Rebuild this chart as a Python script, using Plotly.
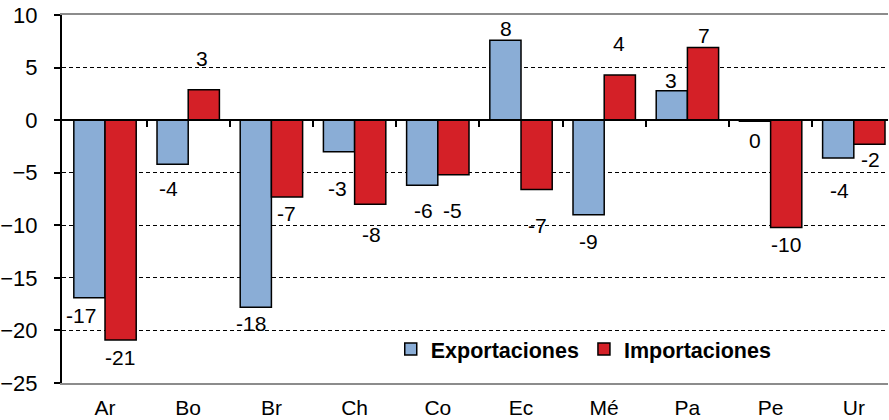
import plotly.graph_objects as go

# Variación (%) por país
paises = ["Ar", "Bo", "Br", "Ch", "Co", "Ec", "Mé", "Pa", "Pe", "Ur"]
exportaciones = [-16.9, -4.2, -17.8, -3.0, -6.2, 7.6, -9.0, 2.8, -0.1, -3.6]
importaciones = [-20.9, 2.9, -7.3, -8.0, -5.2, -6.6, 4.3, 6.9, -10.2, -2.3]

# desplazamiento de las etiquetas (px) respecto al extremo de cada barra
exp_dx = [-8, -4, -5, -2, 1, 1, 0, -1, 0, 1]
exp_dy = [-18, -24, -16, -37, -25, 12, -27, 10, -19, -33]
imp_dx = [-1, -2, -1, 1, -1, 1, -1, 1, 0, 1]
imp_dy = [-18, 31, -17, -30, -36, -36, 31, 12, -17, -15]


def etiqueta(v):
    r = int(round(v))
    return "0" if r == 0 else str(r)


FONT = "Liberation Sans, Arial, sans-serif"
idx = list(range(len(paises)))
bargap = 0.25
half = (1 - bargap) / 4  # centro de cada barra respecto a la categoría

fig = go.Figure()
fig.add_trace(go.Bar(
    x=idx, y=exportaciones, name="Exportaciones",
    marker=dict(color="#8AADD6", line=dict(color="black", width=1.5)),
))
fig.add_trace(go.Bar(
    x=idx, y=importaciones, name="Importaciones",
    marker=dict(color="#D42027", line=dict(color="black", width=1.5)),
))
# eje auxiliar (línea del cero con marcas entre categorías)
fig.add_trace(go.Scatter(x=[None], y=[None], xaxis="x2", showlegend=False,
                         hoverinfo="skip"))

for serie, sign, dxs, dys in ((exportaciones, -1, exp_dx, exp_dy),
                              (importaciones, 1, imp_dx, imp_dy)):
    for i, v in enumerate(serie):
        fig.add_annotation(
            x=i + sign * half, y=v, xref="x", yref="y",
            text=etiqueta(v), showarrow=False,
            xshift=dxs[i], yshift=dys[i],
            font=dict(size=21, color="black", family=FONT),
        )

y_min, y_max = -25, 10
x_min, x_max = -0.517, 9.411
zero_pos = (0 - y_min) / (y_max - y_min)

fig.update_layout(
    width=889, height=420,
    margin=dict(l=62, r=1, t=15, b=37),
    paper_bgcolor="white", plot_bgcolor="white",
    barmode="group", bargap=bargap, bargroupgap=0,
    font=dict(family=FONT, size=21, color="black"),
    showlegend=True,
    legend=dict(
        orientation="h", x=0.398, y=0.092, xanchor="left", yanchor="middle",
        font=dict(size=21.5, family=FONT, weight="bold"),
        bgcolor="rgba(0,0,0,0)",
    ),
    xaxis=dict(
        range=[x_min, x_max], automargin=False,
        tickmode="array", tickvals=idx, ticktext=paises,
        showgrid=False, zeroline=False,
        showline=True, linecolor="#8c8c8c", linewidth=2, mirror=True,
        ticks="", ticklabelstandoff=5,
    ),
    xaxis2=dict(
        overlaying="x", anchor="free", position=zero_pos, automargin=False,
        range=[x_min, x_max],
        tickmode="array", tickvals=[i + 0.5 for i in idx[:-1]],
        ticks="outside", ticklen=6, tickcolor="black", tickwidth=1.5,
        showticklabels=False, showgrid=False, zeroline=False,
        showline=True, linecolor="black", linewidth=1.5,
    ),
    yaxis=dict(
        range=[y_min, y_max], dtick=5, tick0=0, automargin=False,
        showgrid=True, gridcolor="black", griddash="4px,3px", gridwidth=1,
        zeroline=False,
        showline=True, linecolor="black", linewidth=2,
        ticks="outside", ticklen=6, tickcolor="black", tickwidth=2,
        ticklabelstandoff=12, tickfont=dict(size=22),
    ),
)

fig.write_html("out.html", config={"displayModeBar": False},
               post_script="document.body.style.margin='0';")
